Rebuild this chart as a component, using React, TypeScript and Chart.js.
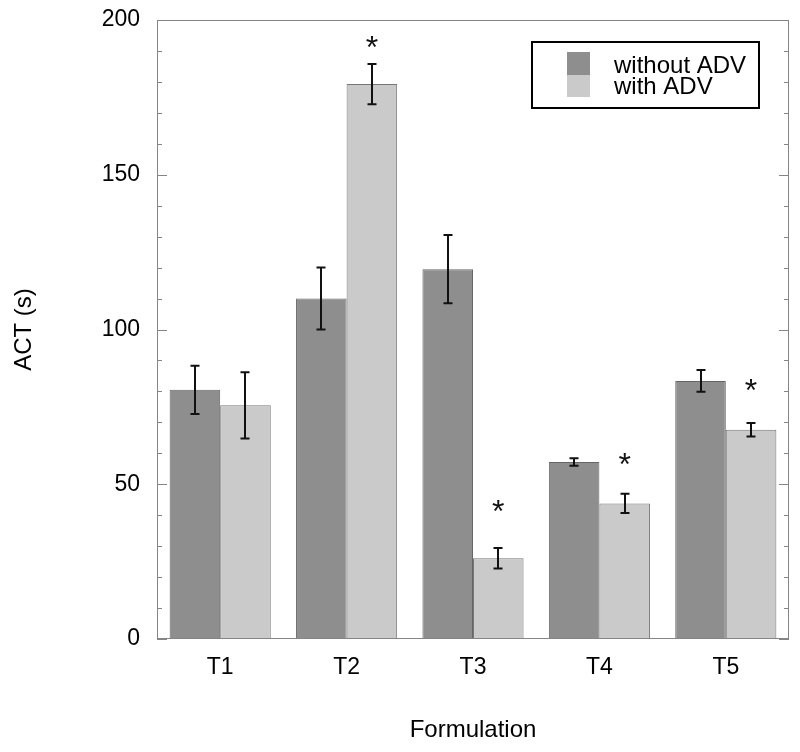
import React, { useEffect, useRef } from "react";
import { Chart, registerables } from "chart.js";

Chart.register(...registerables);

const categories = ["T1", "T2", "T3", "T4", "T5"];
const seriesNames = ["without ADV", "with ADV"];
const withoutADV = [80.5, 110, 119.5, 57.2, 83.4];
const withoutErr = [7.8, 10, 11, 1.2, 3.5];
const withADV = [75.5, 179.3, 26.1, 43.8, 67.6];
const withErr = [10.7, 6.5, 3.3, 3.1, 2.2];
const withStarAt = [null, 193, 43, 58, 82];
const yTicks = [0, 50, 100, 150, 200];

const FONT = "'Liberation Sans', Arial, Helvetica, sans-serif";
const DARK = "#8e8e8e";
const LIGHT = "#cacaca";

const overlay = {
  id: "overlay",
  afterDatasetsDraw(chart: any) {
    const ctx = chart.ctx;
    const { left, right, top, bottom } = chart.chartArea;
    const y = chart.scales.y;
    ctx.save();
    // frame
    ctx.strokeStyle = "#858585";
    ctx.lineWidth = 1;
    ctx.strokeRect(left + 0.5, top + 0.5, right - left - 1, bottom - top - 1);
    // ticks on left and right
    for (let v = 0; v <= 200; v += 10) {
      const py = Math.round(y.getPixelForValue(v)) + 0.5;
      const len = v % 50 === 0 ? 10 : 5;
      ctx.beginPath();
      ctx.moveTo(left, py);
      ctx.lineTo(left + len, py);
      ctx.moveTo(right, py);
      ctx.lineTo(right - len, py);
      ctx.stroke();
    }
    // error bars
    const errs = [withoutErr, withErr];
    const vals = [withoutADV, withADV];
    ctx.strokeStyle = "#111";
    ctx.lineWidth = 2;
    for (let d = 0; d < 2; d++) {
      const meta = chart.getDatasetMeta(d);
      meta.data.forEach((bar: any, i: number) => {
        const x = Math.round(bar.x);
        const yt = y.getPixelForValue(vals[d][i] + errs[d][i]);
        const yb = y.getPixelForValue(vals[d][i] - errs[d][i]);
        ctx.beginPath();
        ctx.moveTo(x, yt);
        ctx.lineTo(x, yb);
        ctx.moveTo(x - 4.5, yt);
        ctx.lineTo(x + 4.5, yt);
        ctx.moveTo(x - 4.5, yb);
        ctx.lineTo(x + 4.5, yb);
        ctx.stroke();
      });
    }
    // stars
    const meta1 = chart.getDatasetMeta(1);
    ctx.fillStyle = "#111";
    const fs = 32;
    ctx.font = `${fs}px ${FONT}`;
    ctx.textAlign = "center";
    ctx.textBaseline = "alphabetic";
    withStarAt.forEach((s, i) => {
      if (s == null) return;
      const x = meta1.data[i].x;
      const py = y.getPixelForValue(s);
      ctx.fillText("*", x, py + 0.5 * fs);
    });
    // legend
    ctx.lineWidth = 2;
    ctx.strokeStyle = "#000";
    ctx.fillStyle = "#fff";
    ctx.fillRect(532, 42, 227, 66);
    ctx.strokeRect(532, 42, 227, 66);
    ctx.lineWidth = 1;
    ctx.fillStyle = DARK;
    ctx.fillRect(567, 52, 23, 23);
    ctx.fillStyle = LIGHT;
    ctx.fillRect(567, 75, 23, 22);
    ctx.fillStyle = "#000";
    ctx.font = `24px ${FONT}`;
    ctx.textAlign = "left";
    ctx.textBaseline = "alphabetic";
    ctx.fillText(seriesNames[0], 614, 73);
    ctx.fillText(seriesNames[1], 614, 94);
    ctx.restore();
  },
};

export default function App() {
  const ref = useRef<HTMLCanvasElement | null>(null);
  useEffect(() => {
    if (!ref.current) return;
    const chart = new Chart(ref.current, {
      type: "bar",
      data: {
        labels: categories,
        datasets: [
          {
            label: seriesNames[0],
            data: withoutADV,
            backgroundColor: DARK,
            borderColor: "#666666",
            borderWidth: 1,
            categoryPercentage: 0.8,
            barPercentage: 1.0,
          },
          {
            label: seriesNames[1],
            data: withADV,
            backgroundColor: LIGHT,
            borderColor: "#777777",
            borderWidth: 1,
            categoryPercentage: 0.8,
            barPercentage: 1.0,
          },
        ],
      },
      options: {
        animation: false,
        responsive: false,
        maintainAspectRatio: false,
        layout: { padding: { top: 20, right: 11, left: 0, bottom: 0 } },
        plugins: { legend: { display: false }, tooltip: { enabled: false } },
        scales: {
          x: {
            grid: { display: false, drawTicks: false },
            border: { display: false },
            ticks: { color: "#000", font: { family: FONT, size: 23 }, padding: 15 },
            title: {
              display: true,
              text: "Formulation",
              color: "#000",
              font: { family: FONT, size: 24 },
              padding: { top: 0, bottom: 7 },
            },
            afterFit: (s: any) => {
              s.height = 113;
              s.paddingLeft = 0;
              s.paddingRight = 0;
            },
          },
          y: {
            min: 0,
            max: 200,
            afterBuildTicks: (s: any) => {
              s.ticks = yTicks.map((v) => ({ value: v }));
            },
            grid: { display: false, drawTicks: false },
            border: { display: false },
            ticks: { color: "#000", font: { family: FONT, size: 23 }, padding: 17 },
            title: {
              display: true,
              text: "ACT (s)",
              color: "#000",
              font: { family: FONT, size: 24 },
              padding: { top: 10, bottom: 0 },
            },
            afterFit: (s: any) => {
              s.width = 157;
              s.paddingTop = 0;
              s.paddingBottom = 0;
            },
          },
        },
      },
      plugins: [overlay],
    });
    return () => chart.destroy();
  }, []);
  return (
    <div style={{ position: "fixed", left: 0, top: 0, width: 800, height: 752, background: "#fff" }}>
      <canvas ref={ref} width={800} height={752} style={{ display: "block" }} />
    </div>
  );
}
